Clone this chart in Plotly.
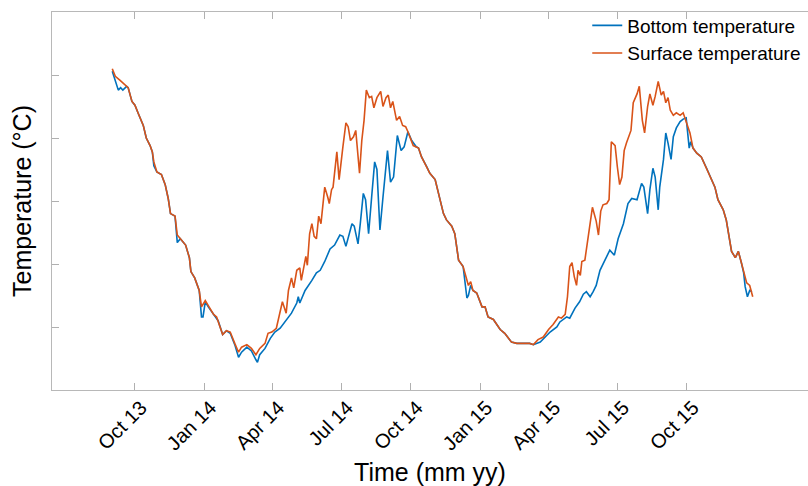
import pandas as pd
import plotly.graph_objects as go

START = "2013-09-01"

# Surface temperature: days since START, °C
surface_day = [0, 4, 10, 17, 21, 26, 30, 34, 41, 45, 50, 53, 55, 59, 65, 70, 74, 77, 83, 86, 90, 97, 102, 104,
               109, 115, 118, 123, 127, 134, 138, 141, 146, 151, 156, 162, 167, 171, 178, 184, 190, 195, 202, 206,
               211, 217, 222, 225, 230, 233, 237, 240, 244, 248, 250, 253, 256, 258, 261, 264, 267, 270, 273, 276,
               279, 281, 285, 287, 290, 292, 297, 300, 305, 309, 312, 315, 319, 322, 327, 330, 333, 336, 340, 343,
               346, 350, 355, 358, 362, 365, 368, 371, 374, 376, 380, 384, 388, 391, 398, 405, 409, 416, 420, 427,
               433, 438, 442, 449, 453, 458, 464, 468, 471, 474, 477, 482, 489, 493, 497, 504, 513, 519, 528, 535,
               544, 552, 557, 563, 570, 577, 583, 590, 594, 599, 602, 605, 608, 611, 614, 616, 619, 621, 625, 630,
               635, 640, 643, 646, 649, 654, 657, 660, 665, 668, 671, 674, 677, 680, 686, 689, 694, 697, 699, 701,
               704, 708, 711, 715, 718, 722, 726, 729, 732, 735, 738, 742, 746, 751, 755, 760, 764, 768, 773, 779,
               786, 793, 797, 801, 808, 812, 816, 819, 824, 828, 832, 835, 839, 843, 847]
surface_temp = [25.5, 24.9, 24.6, 24.2, 24.0, 22.9, 22.6, 22.0, 21.0, 20.0, 19.4, 18.9, 18.1, 17.3, 17.1, 16.3, 15.2,
                14.0, 13.8, 12.3, 12.0, 11.5, 10.5, 9.4, 8.9, 7.9, 6.6, 7.1, 6.7, 6.0, 5.8, 5.2, 4.4, 4.7, 4.6, 3.7,
                3.0, 3.4, 3.6, 3.3, 2.8, 3.3, 3.7, 4.5, 4.6, 4.9, 6.1, 7.0, 6.1, 7.9, 8.9, 8.1, 9.5, 9.7, 8.7, 9.8,
                10.6, 9.9, 12.4, 13.2, 12.2, 12.0, 13.8, 13.2, 14.8, 16.1, 15.3, 14.8, 15.9, 16.1, 18.9, 16.7, 19.3,
                21.2, 20.9, 19.8, 20.1, 20.6, 17.2, 19.8, 21.4, 23.8, 23.2, 23.3, 22.4, 23.2, 23.7, 22.5, 23.2, 23.4,
                22.4, 22.9, 22.0, 21.4, 21.7, 21.0, 20.9, 20.5, 19.4, 19.2, 18.5, 17.7, 17.2, 16.7, 15.2, 14.0, 13.5,
                13.0, 12.4, 10.3, 9.8, 8.9, 8.3, 8.6, 7.9, 7.7, 6.6, 6.6, 5.8, 5.6, 4.8, 4.5, 3.8, 3.7, 3.7, 3.7,
                3.6, 4.0, 4.2, 4.8, 5.2, 5.8, 5.7, 6.0, 7.4, 9.8, 10.1, 9.0, 8.3, 9.5, 9.1, 10.2, 10.3, 12.4, 14.5,
                13.4, 12.3, 14.2, 14.7, 14.8, 15.1, 19.7, 19.4, 17.7, 16.3, 16.9, 19.0, 19.6, 20.6, 22.8, 23.5, 24.1,
                22.4, 21.4, 20.4, 22.5, 23.5, 22.6, 23.3, 24.5, 23.4, 23.7, 22.8, 23.2, 22.2, 21.8, 22.0, 21.8, 22.0,
                21.0, 20.4, 19.2, 18.8, 18.5, 17.6, 16.7, 16.1, 15.1, 14.3, 13.5, 12.2, 11.0, 10.5, 11.0, 10.1, 9.3,
                8.5, 8.3, 7.4]

# Bottom temperature: days since START, °C
bottom_day = [0, 4, 8, 11, 14, 19, 21, 26, 30, 34, 41, 45, 50, 53, 55, 59, 65, 70, 74, 77, 83, 86, 90, 97, 102, 104,
              109, 115, 118, 120, 123, 127, 134, 140, 146, 151, 156, 162, 167, 171, 178, 184, 190, 192, 195, 202,
              209, 215, 222, 231, 237, 244, 246, 248, 255, 264, 270, 275, 281, 288, 294, 301, 305, 309, 312, 317,
              320, 325, 328, 332, 335, 339, 343, 347, 350, 354, 358, 364, 368, 372, 377, 382, 386, 391, 396, 402,
              405, 409, 416, 420, 427, 433, 438, 442, 449, 453, 458, 464, 469, 471, 474, 477, 482, 489, 493, 497,
              504, 513, 519, 528, 535, 544, 552, 557, 566, 579, 588, 592, 601, 605, 612, 618, 623, 627, 632, 636,
              640, 645, 651, 658, 664, 669, 676, 682, 687, 694, 700, 703, 708, 711, 715, 718, 722, 724, 729, 732,
              735, 739, 742, 746, 751, 755, 759, 763, 765, 768, 773, 779, 786, 793, 797, 801, 808, 812, 816, 819,
              824, 828, 832, 835, 837, 840, 843, 846]
bottom_temp = [25.3, 24.6, 23.8, 24.0, 23.8, 24.1, 24.0, 22.9, 22.6, 22.0, 21.0, 20.0, 19.4, 18.9, 17.8, 17.3, 17.1,
               16.3, 15.2, 14.0, 13.8, 11.7, 12.0, 11.5, 10.5, 9.4, 8.9, 7.9, 5.8, 5.8, 7.0, 6.6, 6.0, 5.5, 4.4, 4.7,
               4.5, 3.6, 2.6, 3.0, 3.4, 3.1, 2.4, 2.2, 2.8, 3.3, 4.1, 4.6, 4.9, 5.6, 6.1, 6.9, 7.4, 6.9, 7.9, 8.7,
               9.3, 9.5, 10.2, 11.2, 11.5, 12.3, 12.2, 11.4, 12.1, 13.2, 13.0, 11.6, 13.2, 15.6, 15.1, 12.4, 15.3,
               18.1, 17.5, 12.7, 15.3, 19.0, 16.5, 16.9, 20.2, 19.0, 19.3, 20.5, 19.8, 19.3, 19.2, 18.5, 17.7, 17.2,
               16.7, 15.2, 14.0, 13.5, 13.0, 12.4, 10.3, 9.8, 7.3, 7.5, 8.3, 7.9, 7.7, 6.6, 6.6, 5.8, 5.6, 4.8, 4.5,
               3.8, 3.7, 3.7, 3.7, 3.6, 3.8, 4.6, 5.0, 5.4, 5.8, 5.7, 6.5, 7.0, 7.6, 7.8, 7.4, 7.8, 8.3, 9.5, 10.2,
               11.1, 10.7, 12.0, 13.2, 14.8, 15.2, 15.1, 16.4, 16.1, 14.0, 15.9, 17.6, 16.9, 14.3, 16.1, 18.3, 20.4,
               19.6, 18.3, 20.1, 20.8, 21.3, 21.5, 21.6, 19.2, 19.7, 19.2, 18.8, 18.5, 17.6, 16.7, 16.1, 15.1, 14.3,
               13.5, 12.2, 11.0, 10.5, 11.0, 10.1, 9.3, 8.2, 7.4, 7.9, 7.8]

tick_dates = ["2013-10-01", "2014-01-01", "2014-04-01", "2014-07-01", "2014-10-01",
              "2015-01-01", "2015-04-01", "2015-07-01", "2015-10-01"]
tick_labels = ["Oct 13", "Jan 14", "Apr 14", "Jul 14", "Oct 14",
               "Jan 15", "Apr 15", "Jul 15", "Oct 15"]
y_ticks = [5, 10, 15, 20, 25]

start = pd.Timestamp(START)
bottom_x = start + pd.to_timedelta(bottom_day, unit="D")
surface_x = start + pd.to_timedelta(surface_day, unit="D")

FONT = "Liberation Sans, Arial, Helvetica, sans-serif"

fig = go.Figure()
fig.add_trace(go.Scatter(x=bottom_x, y=bottom_temp, mode="lines", name="Bottom temperature",
                         line=dict(color="#0072BD", width=1.6)))
fig.add_trace(go.Scatter(x=surface_x, y=surface_temp, mode="lines", name="Surface temperature",
                         line=dict(color="#D95319", width=1.6)))

x_lo = start + pd.Timedelta(days=-79.7)
x_hi = start + pd.Timedelta(days=920.1)

fig.update_layout(
    width=808, height=486,
    margin=dict(l=52, r=0, t=12, b=96),
    paper_bgcolor="white", plot_bgcolor="white",
    font=dict(family=FONT, color="black"),
    showlegend=True,
    legend=dict(x=0.708, y=1.0145, xanchor="left", yanchor="top", bgcolor="rgba(0,0,0,0)",
                font=dict(size=19, family=FONT, color="black")),
    xaxis=dict(type="date", range=[x_lo, x_hi], tickmode="array", tickvals=tick_dates, ticktext=tick_labels,
               tickangle=-45, tickfont=dict(size=20), ticklabelshift=6, ticklabelstandoff=-3,
               ticks="inside", ticklen=7, tickcolor="#b0b0b0",
               showline=True, linecolor="#b8b8b8", linewidth=1.3, mirror="ticks", showgrid=False,
               zeroline=False, automargin=False,
               title=dict(text="Time (mm yy)", font=dict(size=25))),
    yaxis=dict(range=[0, 30], tickmode="array", tickvals=y_ticks, showticklabels=False, ticks="inside",
               ticklen=7, tickcolor="#b0b0b0", showline=True, linecolor="#b8b8b8", linewidth=1.3,
               mirror=False, showgrid=False, zeroline=False, automargin=False,
               title=dict(text="Temperature (°C)", font=dict(size=25), standoff=12)),
)

fig.write_html("out.html")
